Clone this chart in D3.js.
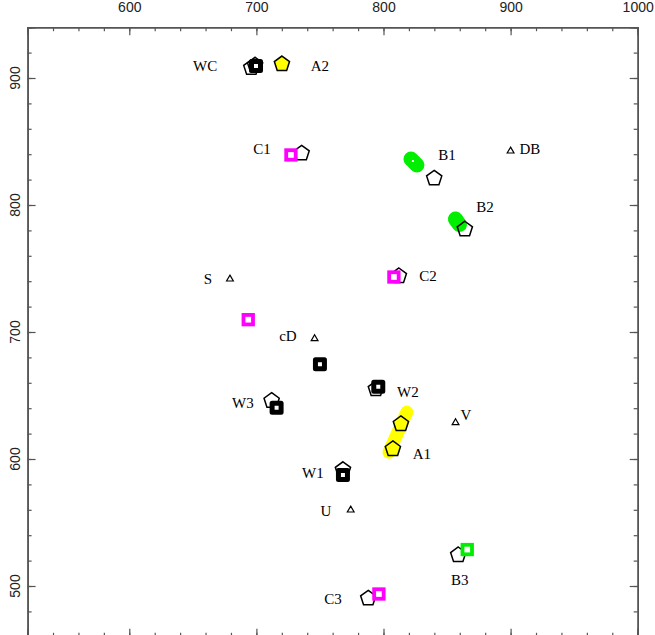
<!DOCTYPE html>
<html>
<head>
<meta charset="utf-8">
<script src="https://cdn.jsdelivr.net/npm/d3@7"></script>
<style>
  body { margin: 0; background: #fff; }
  svg { display: block; }
</style>
</head>
<body>
<div id="chart"></div>
<script>
// ---- data (x, y in chart units) ----
let openPentagons = [
  [696, 908], [699, 910], [735.6, 840.7], [839.9, 821], [864, 780.9],
  [812.1, 744.1], [794, 655.1], [712, 645.9], [768.1, 591.5], [858.8, 524.4], [788, 490.3]
];
let yellowPentagons = [[720.1, 911], [813.7, 627.6], [807.4, 607.9]];

let blackSquares = [[699.7, 909.4], [750, 674.6], [795.9, 656.9], [715.9, 640.4], [768.1, 587.4]];
let magentaSquares = [[727.2, 839.4], [693.6, 709.7], [808.2, 743.3], [796.4, 493.7]];
let greenSquares = [[865.9, 528.7]];

let triangles = [[679.2, 741.7], [745.8, 694.7], [900, 842.5], [856.7, 628.6], [774.2, 559.8]];

// short tracks drawn as thick strokes
let yellowTrack = [[818.4, 636.9], [804.3, 605.4]];
let greenTrack1 = [[821.6, 836.2], [826.3, 831.5]];
let greenTrack2 = [[856.6, 789.0], [859.8, 784.6]];

let labels = [
  {name: "WC", x: 659.7, y: 909.4}, {name: "A2", x: 750, y: 909.4},
  {name: "C1", x: 704.4, y: 844.1}, {name: "B1", x: 849.9, y: 839.4},
  {name: "DB", x: 915.2, y: 844.1}, {name: "B2", x: 879.8, y: 798.4},
  {name: "S", x: 661.9, y: 741.7}, {name: "C2", x: 835, y: 744.1},
  {name: "cD", x: 724.8, y: 696.9}, {name: "W2", x: 819.2, y: 652.8},
  {name: "W3", x: 689.4, y: 644.1}, {name: "V", x: 864.8, y: 634.7},
  {name: "A1", x: 830.2, y: 604}, {name: "W1", x: 744.5, y: 589},
  {name: "U", x: 754.7, y: 559}, {name: "B3", x: 860.1, y: 504.7},
  {name: "C3", x: 760.2, y: 489.7}
];

let xTicks = [600, 700, 800, 900, 1000];
let yTicks = [500, 600, 700, 800, 900];

// ---- chart ----
let W = 655, H = 635;
let svg = d3.select("#chart").append("svg")
  .attr("width", W)
  .attr("height", H);

let x = d3.scaleLinear().domain([520, 1000]).range([27.6, 637.7]);
let y = d3.scaleLinear().domain([460, 940]).range([636.8, 27.2]);

let line = d3.line().x(d => x(d[0])).y(d => y(d[1]));

// tracks
svg.append("path").datum(yellowTrack)
  .attr("d", line).attr("fill", "none")
  .attr("stroke", "#ffff00").attr("stroke-width", 13).attr("stroke-linecap", "round");
[greenTrack1, greenTrack2].forEach(t => {
  svg.append("path").datum(t)
    .attr("d", line).attr("fill", "none")
    .attr("stroke", "#00ee00").attr("stroke-width", 15).attr("stroke-linecap", "round");
});
svg.append("rect")
  .attr("x", x(greenTrack1[0][0]) + 1).attr("y", y(greenTrack1[0][1]) + 1)
  .attr("width", 2).attr("height", 2).attr("fill", "#fff");

// pentagon path
function pentagon(r) {
  let pts = d3.range(5).map(k => {
    let a = -Math.PI / 2 + k * 2 * Math.PI / 5;
    return [r * Math.cos(a), r * Math.sin(a)];
  });
  return "M" + pts.map(p => p.join(",")).join("L") + "Z";
}

svg.append("g").selectAll("path")
  .data(openPentagons).join("path")
  .attr("d", pentagon(8))
  .attr("transform", d => "translate(" + x(d[0]) + "," + y(d[1]) + ")")
  .attr("fill", "none").attr("stroke", "#000").attr("stroke-width", 1.5);

svg.append("g").selectAll("path")
  .data(yellowPentagons).join("path")
  .attr("d", pentagon(8))
  .attr("transform", d => "translate(" + x(d[0]) + "," + y(d[1]) + ")")
  .attr("fill", "#ffff00").attr("stroke", "#000").attr("stroke-width", 1.5);

// squares
function squares(data, color, side, sw, join) {
  svg.append("g").selectAll("rect")
    .data(data).join("rect")
    .attr("x", d => x(d[0]) - side / 2)
    .attr("y", d => y(d[1]) - side / 2)
    .attr("width", side).attr("height", side)
    .attr("fill", "#fff").attr("stroke", color)
    .attr("stroke-width", sw).attr("stroke-linejoin", join);
}
squares(blackSquares, "#000", 9, 5, "round");
squares(magentaSquares, "#ff00ff", 9.5, 3.8, "miter");
squares(greenSquares, "#00ee00", 9.5, 3.8, "miter");

// triangles
svg.append("g").selectAll("path")
  .data(triangles).join("path")
  .attr("d", d3.symbol(d3.symbolTriangle, 20))
  .attr("transform", d => "translate(" + x(d[0]) + "," + y(d[1]) + ")")
  .attr("fill", "#fff").attr("stroke", "#000").attr("stroke-width", 1.2);

// labels
svg.append("g").selectAll("text")
  .data(labels).join("text")
  .attr("x", d => x(d.x))
  .attr("y", d => y(d.y))
  .attr("dy", "0.35em")
  .attr("text-anchor", "middle")
  .style("font-family", "'Liberation Serif', serif")
  .style("font-size", "15px")
  .attr("fill", "#000")
  .text(d => d.name);

// ---- axes (ticks point inward) ----
let axisColor = "#555";
let minorX = d3.range(520, 1001, 20);
let minorY = d3.range(460, 941, 20);

function styleAxis(g) {
  g.select(".domain").attr("stroke", axisColor).attr("stroke-width", 1.5);
  g.selectAll(".tick line").attr("stroke", axisColor).attr("stroke-width", 1.2);
}

// top
svg.append("g").attr("transform", "translate(0," + y(940) + ")")
  .call(d3.axisTop(x).tickValues(minorX).tickSize(-4).tickFormat(""))
  .call(styleAxis);
svg.append("g").attr("transform", "translate(0," + y(940) + ")")
  .call(d3.axisTop(x).tickValues(xTicks).tickSize(-8).tickPadding(15).tickFormat(d3.format("d")))
  .call(styleAxis)
  .call(g => g.selectAll(".tick text")
    .style("font-family", "'Liberation Sans', Arial, sans-serif")
    .style("font-size", "14px").attr("fill", "#222"));

// bottom
svg.append("g").attr("transform", "translate(0," + y(460) + ")")
  .call(d3.axisBottom(x).tickValues(minorX).tickSize(-4).tickFormat(""))
  .call(styleAxis);
svg.append("g").attr("transform", "translate(0," + y(460) + ")")
  .call(d3.axisBottom(x).tickValues(xTicks).tickSize(-8).tickFormat(""))
  .call(styleAxis);

// left
svg.append("g").attr("transform", "translate(" + x(520) + ",0)")
  .call(d3.axisLeft(y).tickValues(minorY).tickSize(-4).tickFormat(""))
  .call(styleAxis);
svg.append("g").attr("transform", "translate(" + x(520) + ",0)")
  .call(d3.axisLeft(y).tickValues(yTicks).tickSize(-8).tickFormat(""))
  .call(styleAxis);

// right
svg.append("g").attr("transform", "translate(" + x(1000) + ",0)")
  .call(d3.axisRight(y).tickValues(minorY).tickSize(-4).tickFormat(""))
  .call(styleAxis);
svg.append("g").attr("transform", "translate(" + x(1000) + ",0)")
  .call(d3.axisRight(y).tickValues(yTicks).tickSize(-8).tickFormat(""))
  .call(styleAxis);

// rotated y tick labels
svg.append("g").selectAll("text")
  .data(yTicks).join("text")
  .attr("transform", d => "translate(20," + y(d) + ") rotate(-90)")
  .attr("text-anchor", "middle")
  .style("font-family", "'Liberation Sans', Arial, sans-serif")
  .style("font-size", "14px")
  .attr("fill", "#222")
  .text(d => d);
</script>
</body>
</html>
